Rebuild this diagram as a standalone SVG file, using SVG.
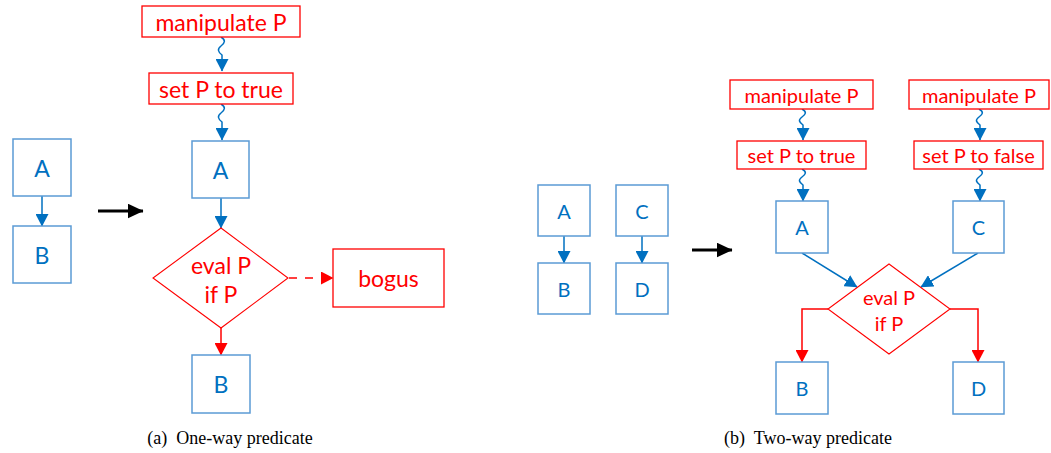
<svg xmlns="http://www.w3.org/2000/svg" width="1051" height="453" viewBox="0 0 1051 453">
<style>
.bb{fill:#fff;stroke:#5B9BD5;stroke-width:1.5}
.rb{fill:#fff;stroke:#FF0000;stroke-width:1.3}
.rd{fill:#fff;stroke:#FF0000;stroke-width:1.1}
.bt{font-family:Lato,"Open Sans",sans-serif;fill:#0070C0;text-anchor:middle;dominant-baseline:central}
.rt{font-family:Lato,"Open Sans",sans-serif;fill:#FF0000;text-anchor:middle;dominant-baseline:central}
.l{font-size:23px}
.s{font-size:20px}
.ba{fill:none;stroke:#0070C0;stroke-width:1.5;marker-end:url(#mb)}
.ra{fill:none;stroke:#FF0000;stroke-width:1.5;marker-end:url(#mr)}
.ka{fill:none;stroke:#000;stroke-width:3;marker-end:url(#mk)}
.cap{font-family:"Liberation Serif",serif;font-size:18px;fill:#000;text-anchor:middle}
</style>
<defs>
<marker id="mb" markerUnits="userSpaceOnUse" markerWidth="13" markerHeight="13" refX="12" refY="6.5" orient="auto"><path d="M0,0 L12.5,6.5 L0,13 z" fill="#0070C0"/></marker>
<marker id="mr" markerUnits="userSpaceOnUse" markerWidth="13" markerHeight="13" refX="12" refY="6.5" orient="auto"><path d="M0,0 L12.5,6.5 L0,13 z" fill="#FF0000"/></marker>
<marker id="mk" markerUnits="userSpaceOnUse" markerWidth="16" markerHeight="15" refX="15.5" refY="7.5" orient="auto"><path d="M0,0 L16,7.5 L0,15 z" fill="#000"/></marker>
</defs>

<g id="connectors">
<line class="ba" x1="42" y1="196" x2="42" y2="226"/>
<line class="ka" x1="98" y1="211" x2="143" y2="211"/>
<path class="ba" d="M221,37 c5,3 4,6 0,9 c-4,3 -3,6 1,9 L222,71"/>
<path class="ba" d="M221,104 c5,3 4,6 0,9 c-4,3 -3,6 1,9 L222,140"/>
<line class="ba" x1="221" y1="198" x2="221" y2="228"/>
<line class="ra" x1="289" y1="278" x2="333" y2="278" stroke-dasharray="8 8"/>
<line class="ra" x1="221" y1="328" x2="221" y2="355"/>
<line class="ba" x1="564" y1="236" x2="564" y2="263"/>
<line class="ba" x1="642" y1="236" x2="642" y2="263"/>
<line class="ka" x1="692" y1="250" x2="732" y2="250"/>
<path class="ba" d="M802,109 c5,3 4,5 0,8 c-4,3 -3,5 1,8 L803,140"/>
<path class="ba" d="M802,169 c5,3 4,5 0,8 c-4,3 -3,5 1,8 L803,201"/>
<path class="ba" d="M979,109 c5,3 4,5 0,8 c-4,3 -3,5 1,8 L980,140"/>
<path class="ba" d="M979,169 c5,3 4,5 0,8 c-4,3 -3,5 1,8 L980,201"/>
<line class="ba" x1="802" y1="253" x2="857" y2="287"/>
<line class="ba" x1="978" y1="253" x2="921" y2="287"/>
<polyline class="ra" points="828,309 802,309 802,362"/>
<polyline class="ra" points="950,309 978,309 978,362"/>
</g>

<g id="a1"><rect class="bb" x="13" y="139" width="58" height="57"/><text class="bt l" x="42" y="168">A</text></g>
<g id="b1"><rect class="bb" x="13" y="226" width="58" height="57"/><text class="bt l" x="42" y="255">B</text></g>

<g id="manip-a"><rect class="rb" x="142" y="6" width="158" height="31"/><text class="rt l" x="221" y="21.5">manipulate P</text></g>
<g id="settrue-a"><rect class="rb" x="149" y="73" width="144" height="31"/><text class="rt l" x="221" y="88.5">set P to true</text></g>
<g id="a-a"><rect class="bb" x="192" y="141" width="57" height="57"/><text class="bt l" x="220.5" y="170">A</text></g>
<g id="eval-a"><polygon class="rd" points="221,228 288,278 221,328 153,278"/><text class="rt l" x="221" y="265">eval P</text><text class="rt l" x="221" y="294">if P</text></g>
<g id="bogus"><rect class="rb" x="333" y="249" width="111" height="58"/><text class="rt l" x="388.5" y="278">bogus</text></g>
<g id="b-a"><rect class="bb" x="192" y="355" width="58" height="58"/><text class="bt l" x="221" y="384">B</text></g>

<g id="a2"><rect class="bb" x="538" y="185" width="52" height="51"/><text class="bt s" x="564" y="210.5">A</text></g>
<g id="b2"><rect class="bb" x="538" y="263" width="52" height="51"/><text class="bt s" x="564" y="288.5">B</text></g>
<g id="c2"><rect class="bb" x="616" y="185" width="52" height="51"/><text class="bt s" x="642" y="210.5">C</text></g>
<g id="d2"><rect class="bb" x="616" y="263" width="52" height="51"/><text class="bt s" x="642" y="288.5">D</text></g>

<g id="manip-b1"><rect class="rb" x="730" y="80" width="143" height="29"/><text class="rt s" x="801.5" y="94.5">manipulate P</text></g>
<g id="settrue-b"><rect class="rb" x="737" y="141" width="129" height="28"/><text class="rt s" x="801.5" y="155">set P to true</text></g>
<g id="manip-b2"><rect class="rb" x="909" y="80" width="140" height="29"/><text class="rt s" x="979" y="94.5">manipulate P</text></g>
<g id="setfalse-b"><rect class="rb" x="914" y="141" width="129" height="28"/><text class="rt s" x="978.5" y="155">set P to false</text></g>
<g id="a-b"><rect class="bb" x="776" y="201" width="52" height="52"/><text class="bt s" x="802" y="227">A</text></g>
<g id="c-b"><rect class="bb" x="953" y="201" width="51" height="52"/><text class="bt s" x="978.5" y="227">C</text></g>
<g id="eval-b"><polygon class="rd" points="889,264 950,309 889,354 828,309"/><text class="rt s" x="889" y="297">eval P</text><text class="rt s" x="889" y="323">if P</text></g>
<g id="b-b"><rect class="bb" x="776" y="362" width="52" height="52"/><text class="bt s" x="802" y="388">B</text></g>
<g id="d-b"><rect class="bb" x="953" y="362" width="51" height="52"/><text class="bt s" x="978.5" y="388">D</text></g>

<text class="cap" x="230" y="444" xml:space="preserve">(a)  One-way predicate</text>
<text class="cap" x="808" y="444" xml:space="preserve">(b)  Two-way predicate</text>
</svg>
